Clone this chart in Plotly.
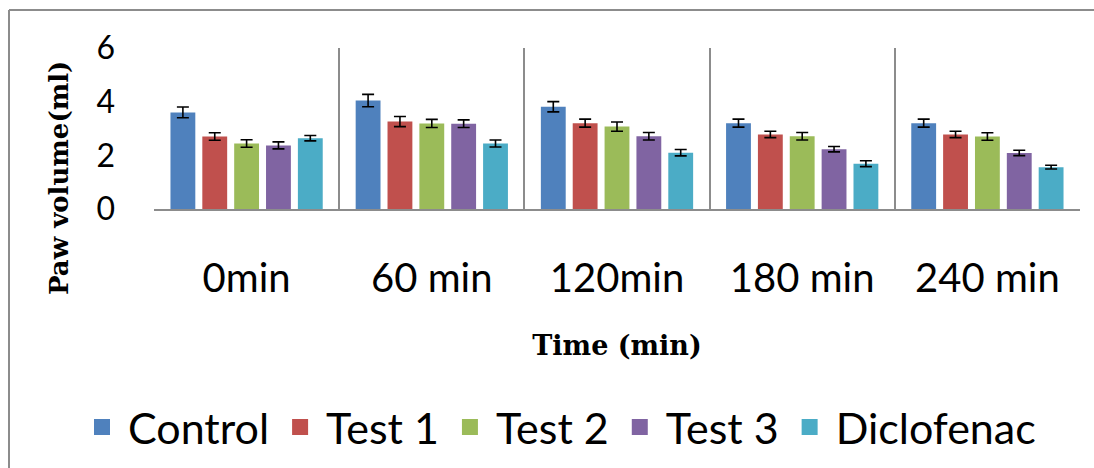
import plotly.graph_objects as go

categories = ["0min", "60 min", "120min", "180 min", "240 min"]
series_names = ["Control", "Test 1", "Test 2", "Test 3", "Diclofenac"]
control = [3.60, 4.04, 3.81, 3.20, 3.20]
test1 = [2.70, 3.26, 3.20, 2.78, 2.78]
test2 = [2.44, 3.19, 3.07, 2.71, 2.70]
test3 = [2.37, 3.18, 2.71, 2.23, 2.09]
diclofenac = [2.64, 2.44, 2.10, 1.69, 1.56]
control_err = [0.20, 0.23, 0.19, 0.15, 0.15]
test1_err = [0.14, 0.19, 0.15, 0.12, 0.12]
test2_err = [0.14, 0.15, 0.17, 0.14, 0.14]
test3_err = [0.13, 0.14, 0.14, 0.10, 0.10]
diclofenac_err = [0.10, 0.13, 0.12, 0.11, 0.07]
colors = ["#4F81BD", "#C0504D", "#9BBB59", "#8064A2", "#4BACC6"]

values = [control, test1, test2, test3, diclofenac]
errors = [control_err, test1_err, test2_err, test3_err, diclofenac_err]

fig = go.Figure()
for name, vals, errs, col in zip(series_names, values, errors, colors):
    fig.add_trace(go.Bar(
        x=categories, y=vals, name=name, legendgroup=name, showlegend=False,
        marker=dict(color=col, line=dict(width=0)),
        error_y=dict(type="data", array=errs, visible=True, color="black",
                     thickness=1.6, width=6),
    ))
    # legend entry with a larger square swatch
    fig.add_trace(go.Scatter(
        x=[None], y=[None], name=name, legendgroup=name, mode="markers",
        marker=dict(symbol="square", size=22, color=col),
    ))

PLOT_H = 161  # px height of plot area
PLOT_W = 926  # px width of plot area

# plot area at x 154..1080, y 48..209 of the 1094x468 page
fig.update_layout(
    width=1094, height=468,
    margin=dict(l=154, r=14, t=48, b=259, autoexpand=False),
    paper_bgcolor="white", plot_bgcolor="white",
    barmode="group", bargap=0.14, bargroupgap=0.22,
    font=dict(family="Lato", color="black"),
    xaxis=dict(
        type="category", tickson="boundaries", showgrid=True,
        gridcolor="#8c8c8c", gridwidth=1.5,
        showline=True, linecolor="#8c8c8c", linewidth=1.5,
        ticks="", tickfont=dict(size=40, family="Lato"),
        ticklabelstandoff=33, automargin=False,
        title=dict(text="<b>Time (min)</b>",
                   font=dict(family="DejaVu Serif", size=27), standoff=36),
    ),
    yaxis=dict(
        range=[0, 6], dtick=2, showgrid=False, zeroline=False,
        showline=False, ticks="", tickfont=dict(size=32, family="Lato"),
        ticklabelstandoff=38, automargin=False,
    ),
    legend=dict(orientation="h", x=(76 - 154) / PLOT_W, xanchor="left",
                y=(209 - 427) / PLOT_H, yanchor="middle",
                font=dict(size=43, family="Lato"),
                itemwidth=42, traceorder="normal", itemsizing="trace"),
    annotations=[dict(text="<b>Paw volume(ml)</b>", textangle=-90, showarrow=False,
                      xref="paper", yref="paper",
                      x=(59 - 154) / PLOT_W, y=(209 - 178) / PLOT_H,
                      xanchor="center", yanchor="middle",
                      font=dict(family="DejaVu Serif", size=26, color="black"))],
    shapes=[
        dict(type="line", xref="paper", yref="paper",
             x0=(9 - 154) / PLOT_W, x1=1.2, y0=(209 - 10) / PLOT_H, y1=(209 - 10) / PLOT_H,
             line=dict(color="#8c8c8c", width=2), layer="below"),
        dict(type="line", xref="paper", yref="paper",
             x0=(9 - 154) / PLOT_W, x1=(9 - 154) / PLOT_W, y0=-2.5, y1=(209 - 10) / PLOT_H,
             line=dict(color="#8c8c8c", width=2), layer="below"),
    ],
)

fig.write_html(
    "out.html",
    config={"displayModeBar": False},
    post_script="document.body.style.margin='0';document.body.style.overflow='hidden';",
)
